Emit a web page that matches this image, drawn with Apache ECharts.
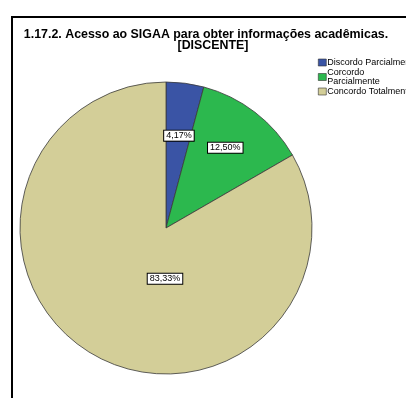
<!DOCTYPE html>
<html>
<head>
<meta charset="utf-8">
<script src="https://cdn.jsdelivr.net/npm/echarts@6/dist/echarts.min.js"></script>
<style>
  html, body { margin: 0; padding: 0; background: #fff; }
  #chart { width: 406px; height: 398px; }
</style>
</head>
<body>
<div id="chart"></div>
<script>
// Response categories and their shares (percent)
const categories = ['Discordo Parcialmente', 'Corcordo Parcialmente', 'Concordo Totalmente'];
const legendLabels = ['Discordo Parcialmente', 'Corcordo\nParcialmente', 'Concordo Totalmente'];
const shares = [4.17, 12.50, 83.33];
const sliceColors = ['#3a54a5', '#2cb84e', '#d3ce98'];
const titleLines = ['1.17.2. Acesso ao SIGAA para obter informações acadêmicas.', '[DISCENTE]'];
// nudges for the value tags, one per slice
const tagOffsets = [[3, -17], [13, -20], [37, -15]];

const chart = echarts.init(document.getElementById('chart'), null, { renderer: 'canvas' });

const fmt = v => v.toFixed(2).replace('.', ',') + '%';
const font = 'Liberation Sans, Arial, sans-serif';
const titleStyle = { fontFamily: font, fontWeight: 'bold', fontSize: 12.4, color: '#000' };

chart.setOption({
  animation: false,
  title: [
    { text: titleLines[0], left: 206, top: 29, textAlign: 'center', padding: 0, textStyle: titleStyle },
    { text: titleLines[1], left: 213, top: 40, textAlign: 'center', padding: 0, textStyle: titleStyle }
  ],
  legend: {
    orient: 'vertical',
    left: 318,
    top: 58,
    itemWidth: 8,
    itemHeight: 7,
    itemGap: 1,
    icon: 'rect',
    padding: 0,
    formatter: name => legendLabels[categories.indexOf(name)],
    textStyle: {
      fontFamily: font,
      fontSize: 9,
      lineHeight: 9,
      color: '#000',
      padding: [0, 0, 0, -4]
    },
    itemStyle: { borderColor: '#333', borderWidth: 0.6 }
  },
  graphic: [{
    type: 'rect',
    shape: { x: 12, y: 17, width: 600, height: 600 },
    style: { fill: 'none', stroke: '#000', lineWidth: 2 },
    silent: true,
    z: 100
  }],
  series: [{
    type: 'pie',
    center: [166, 228],
    radius: [0, 146],
    startAngle: 90,
    clockwise: true,
    avoidLabelOverlap: false,
    itemStyle: { borderColor: '#3a3a3a', borderWidth: 0.8 },
    label: {
      position: 'inside',
      formatter: p => fmt(p.value),
      fontFamily: font,
      fontSize: 9,
      color: '#000',
      backgroundColor: '#fff',
      borderColor: '#000',
      borderWidth: 1,
      padding: [1, 2, 0, 2]
    },
    labelLine: { show: false },
    emphasis: { disabled: true },
    data: categories.map((name, i) => ({
      name,
      value: shares[i],
      itemStyle: { color: sliceColors[i] },
      label: { offset: tagOffsets[i] }
    }))
  }]
});
</script>
</body>
</html>
